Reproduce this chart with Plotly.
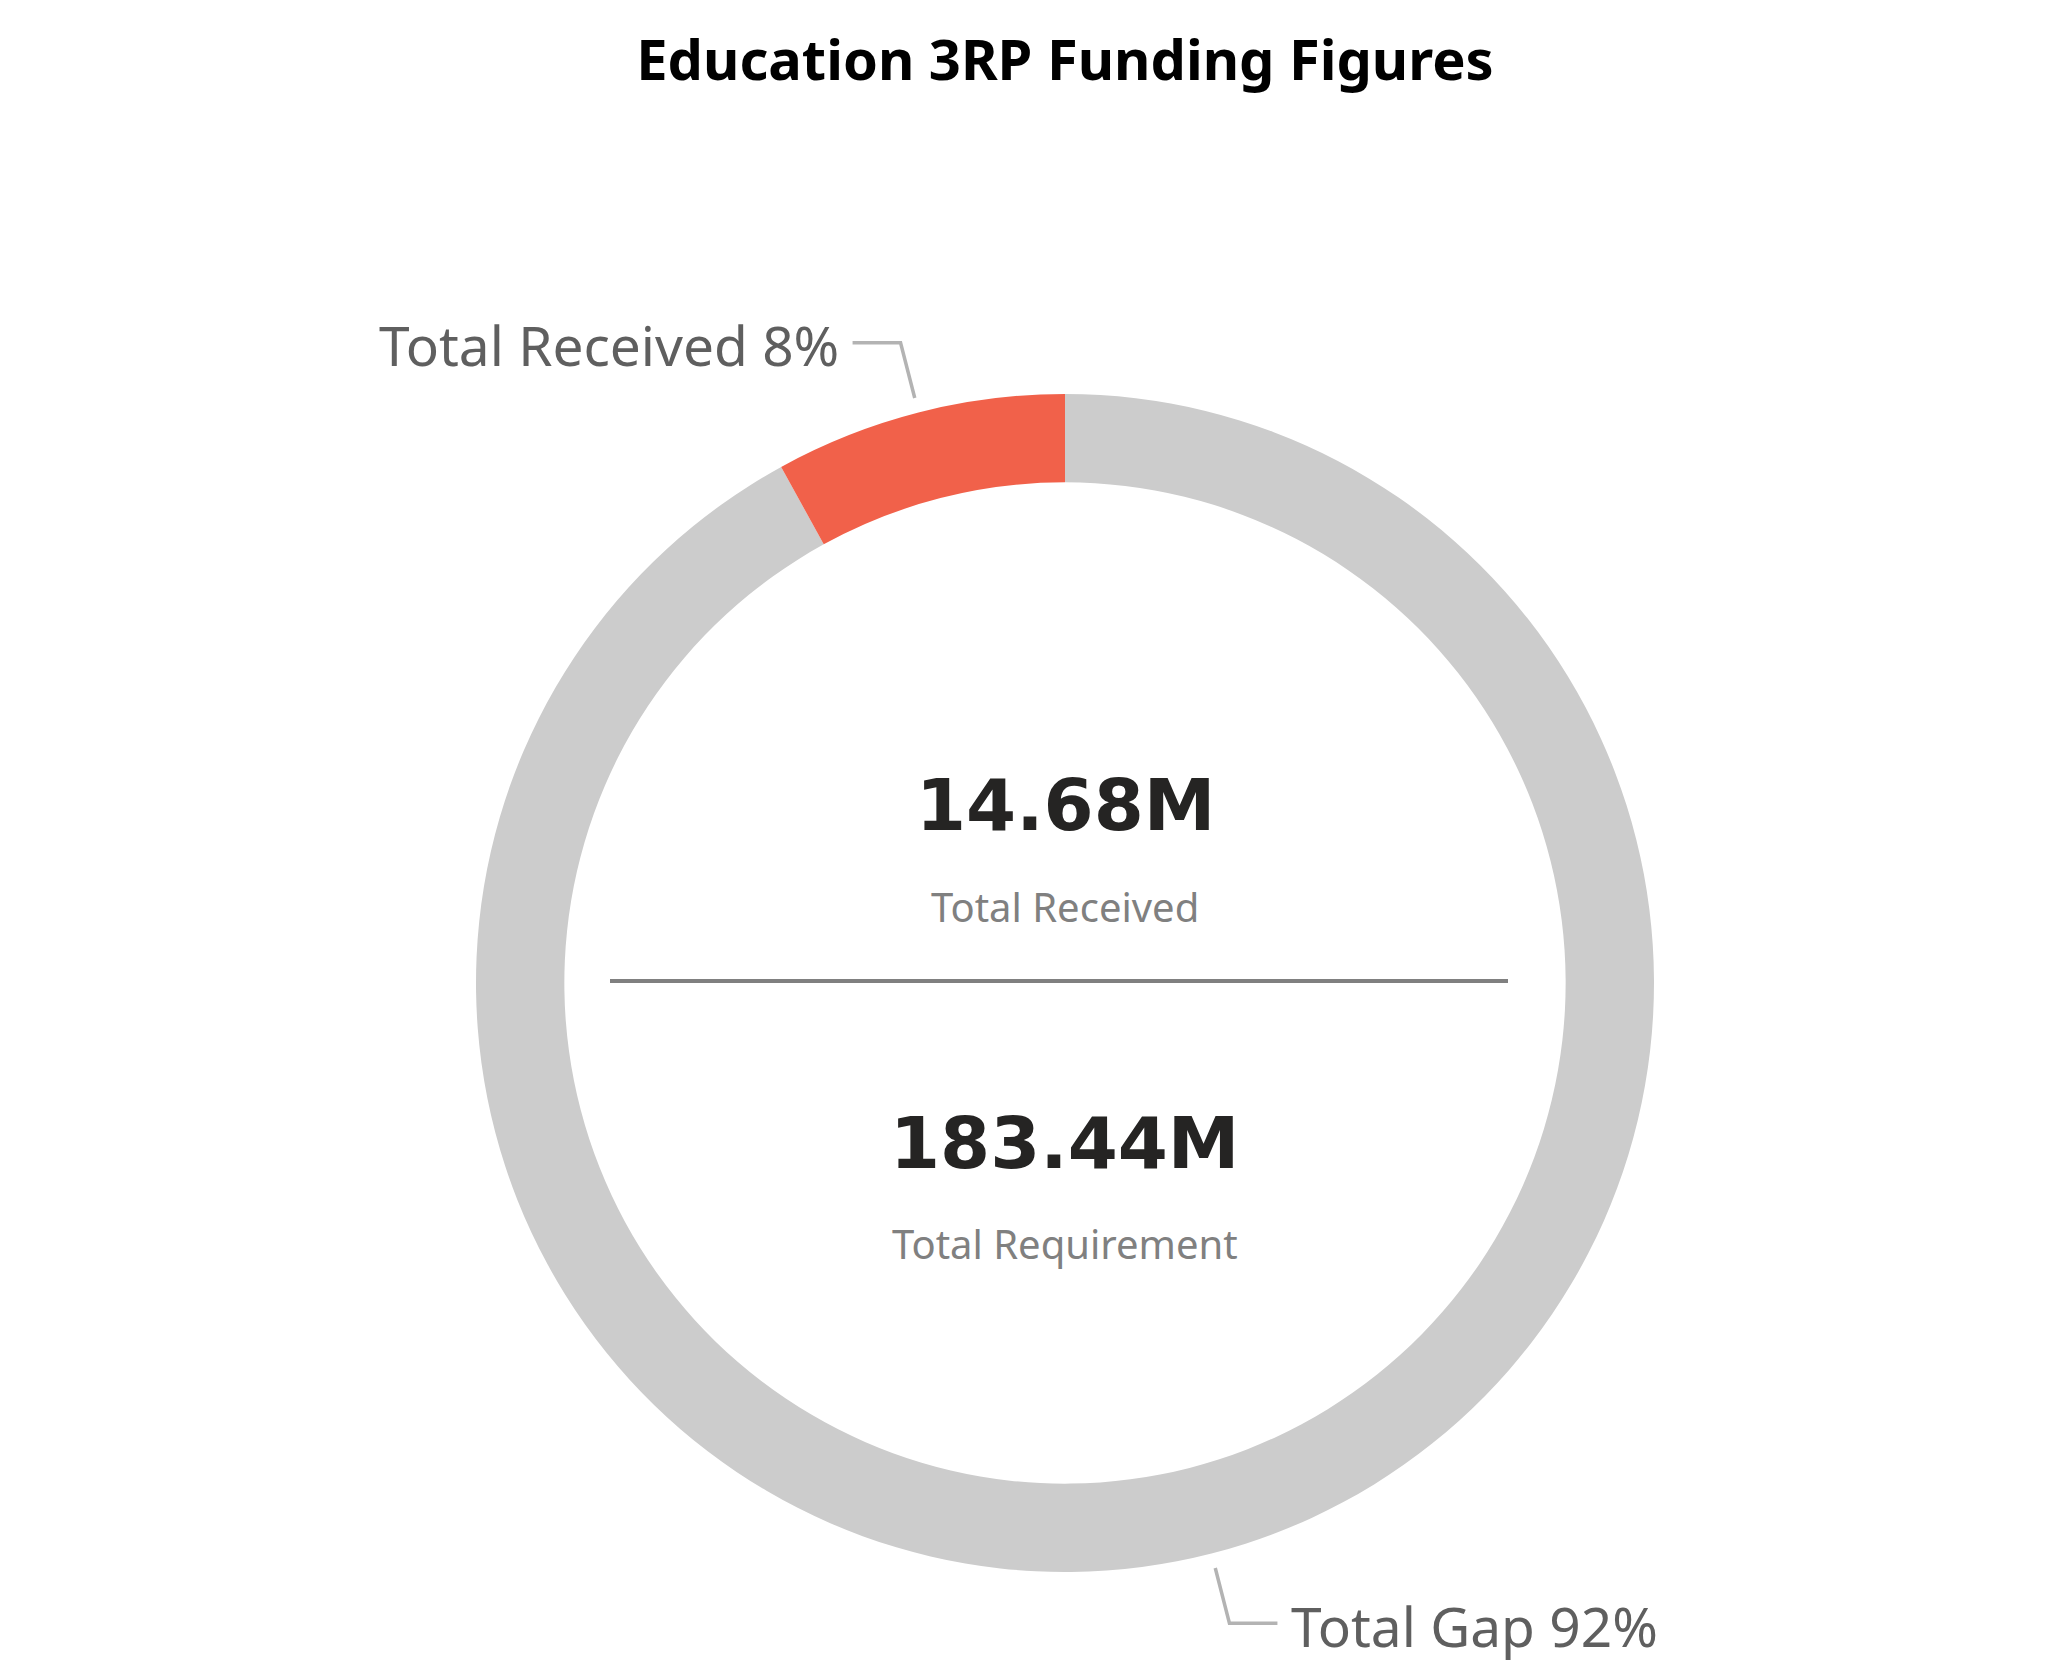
import math
import plotly.graph_objects as go

W, H = 2072, 1674

categories = ["Total Received", "Total Gap"]
values = [14.68, 168.76]
total_requirement = 183.44
colors = ["#F1614A", "#CCCCCC"]
center_values = ["14.68M", "183.44M"]
center_labels = ["Total Received", "Total Requirement"]
title_text = "Education 3RP Funding Figures"

# pie geometry (pixels in the page)
cx, cy, R = 1065, 983, 589
hole = 0.85
OFF = 8  # page body margin

def px(x):
    return (x - OFF) / W

def py(y):
    return 1 - (y - OFF) / H

# slices run counterclockwise from 12 o'clock: feed reversed order clockwise
fig = go.Figure()
fig.add_trace(go.Pie(
    labels=categories[::-1],
    values=values[::-1],
    hole=hole,
    sort=False,
    direction="clockwise",
    rotation=0,
    marker=dict(colors=colors[::-1], line=dict(width=0)),
    textinfo="none",
    hoverinfo="label+value+percent",
    showlegend=False,
    domain=dict(x=[px(cx - R), px(cx + R)], y=[py(cy + R), py(cy - R)]),
))

shapes = []
annotations = []
tot = sum(values)
cum = 0
for i, (lab, v) in enumerate(zip(categories, values)):
    mid = (cum + v / 2) / tot * 2 * math.pi
    cum += v
    sx, sy = -math.sin(mid), -math.cos(mid)  # ccw from top
    x0, y0 = cx + (R + 15) * sx, cy + (R + 15) * sy
    x1, y1 = cx + (R + 72) * sx, cy + (R + 72) * sy
    side = -1 if sx < 0 else 1
    x2 = x1 + side * 48
    line = dict(color="#B3B3B3", width=3.5)
    shapes.append(dict(type="path", xref="paper", yref="paper",
                       path=f"M {px(x0)} {py(y0)} L {px(x1)} {py(y1)} L {px(x2)} {py(y1)}",
                       line=line))
    pct = round(v / tot * 100)
    annotations.append(dict(
        text=f"{lab} {pct}%", x=px(x2 + side * 12), y=py(y1 + 2), xref="paper", yref="paper",
        xanchor="right" if side < 0 else "left", yanchor="middle", showarrow=False,
        font=dict(family="Noto Sans", size=55, color="#5F5F5F"),
    ))

# center texts
annotations += [
    dict(text=f"<b>{center_values[0]}</b>", x=px(cx), y=py(805), xref="paper", yref="paper",
         showarrow=False, yanchor="middle",
         font=dict(family="DejaVu Sans", size=72, color="#252423")),
    dict(text=center_labels[0], x=px(cx), y=py(906), xref="paper", yref="paper",
         showarrow=False, yanchor="middle",
         font=dict(family="Noto Sans", size=40, color="#808080")),
    dict(text=f"<b>{center_values[1]}</b>", x=px(cx), y=py(1143), xref="paper", yref="paper",
         showarrow=False, yanchor="middle",
         font=dict(family="DejaVu Sans", size=72, color="#252423")),
    dict(text=center_labels[1], x=px(cx), y=py(1243), xref="paper", yref="paper",
         showarrow=False, yanchor="middle",
         font=dict(family="Noto Sans", size=40, color="#808080")),
]
shapes.append(dict(type="line", xref="paper", yref="paper",
                   x0=px(cx - 455), x1=px(cx + 443), y0=py(981), y1=py(981),
                   line=dict(color="#808080", width=4)))

fig.update_layout(
    width=W, height=H,
    margin=dict(l=0, r=0, t=0, b=0),
    paper_bgcolor="white", plot_bgcolor="white",
    title=dict(text=f"<b>{title_text}</b>", x=px(1065), xanchor="center", y=py(60), yanchor="middle",
               yref="container", font=dict(family="Noto Sans", size=56, color="#000000")),
    shapes=shapes,
    annotations=annotations,
)

fig.write_html("out.html")
